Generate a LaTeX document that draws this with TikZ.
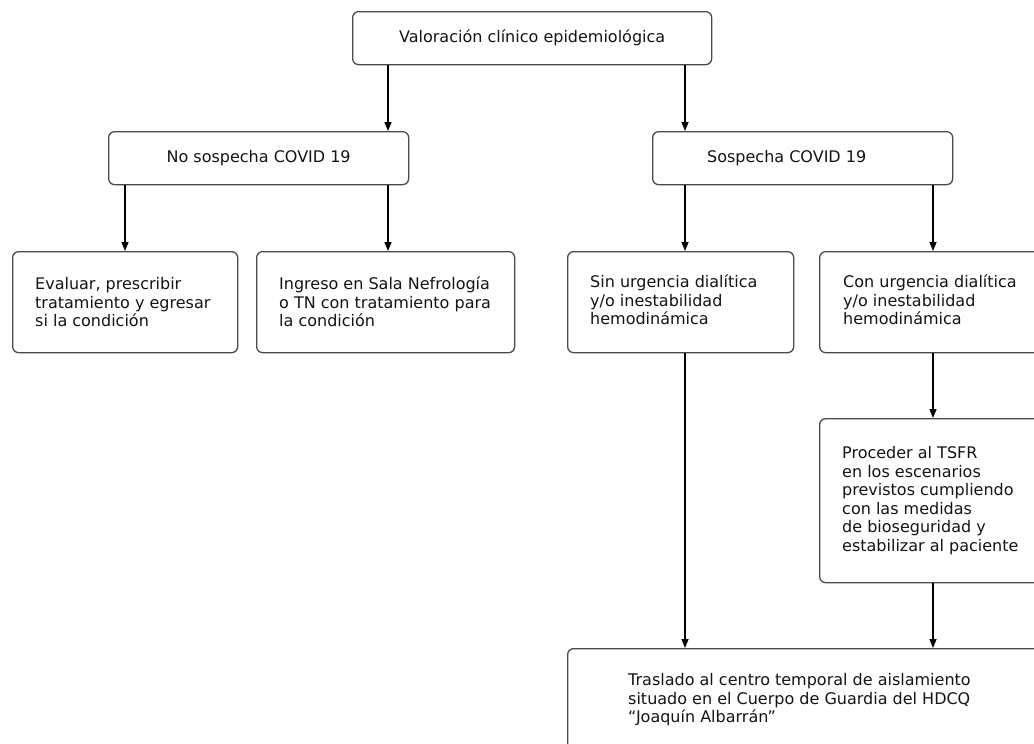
\documentclass[tikz,border=0pt]{standalone}
\usepackage{fontspec}
\setmainfont{DejaVu Sans}
\usetikzlibrary{arrows.meta}
\definecolor{boxgray}{HTML}{4A4A4A}
\definecolor{textgray}{HTML}{141414}
\begin{document}
\begin{tikzpicture}[x=1pt,y=-1pt,
  box/.style={draw=boxgray,line width=1.3pt,rounded corners=6pt,inner sep=0pt,anchor=north west},
  txt/.style={font=\fontsize{16}{18.5}\selectfont,text=textgray,align=left,inner sep=0pt,anchor=west},
  arr/.style={draw=black,line width=1.4pt,-{Triangle[length=9pt,width=7pt]}}]
\clip (0,0) rectangle (1034,744);
\fill[white] (0,0) rectangle (1034,744);
% boxes
\node[box,minimum width=359pt,minimum height=53pt] (top) at (352,11) {};
\node[box,minimum width=300pt,minimum height=53pt] (nos) at (108,131) {};
\node[box,minimum width=300pt,minimum height=53pt] (sos) at (652,131) {};
\node[box,minimum width=225pt,minimum height=101pt] (eval) at (12,251) {};
\node[box,minimum width=258pt,minimum height=101pt] (ingr) at (256,251) {};
\node[box,minimum width=226pt,minimum height=101pt] (sin) at (567,251) {};
\node[box,minimum width=230pt,minimum height=101pt] (con) at (819,251) {};
\node[box,minimum width=230pt,minimum height=164pt] (proc) at (819,418) {};
\node[box,minimum width=490pt,minimum height=102pt] (tras) at (567,648) {};
% texts
\node[txt,anchor=center] (ttop) at (top.center) {Valoración clínico epidemiológica};
\node[txt,anchor=center] (tnos) at (nos.center) {No sospecha COVID 19};
\node[txt] (tsos) at ([xshift=55pt]sos.west) {Sospecha COVID 19};
\node[txt] (teval) at ([xshift=23pt]eval.west) {Evaluar, prescribir\\tratamiento y egresar\\si la condición};
\node[txt] (tingr) at ([xshift=23pt]ingr.west) {Ingreso en Sala Nefrología\\o TN con tratamiento para\\la condición};
\node[txt] (tsin) at ([xshift=23pt,yshift=2pt]sin.west) {Sin urgencia dialítica\\y/o inestabilidad\\hemodinámica};
\node[txt] (tcon) at ([xshift=24pt,yshift=2pt]con.west) {Con urgencia dialítica\\y/o inestabilidad\\hemodinámica};
\node[txt] (tproc) at ([xshift=23pt]proc.west) {Proceder al TSFR\\en los escenarios\\previstos cumpliendo\\con las medidas\\de bioseguridad y\\estabilizar al paciente};
\node[txt] (ttras) at ([xshift=61pt]tras.west) {Traslado al centro temporal de aislamiento\\situado en el Cuerpo de Guardia del HDCQ\\“Joaquín Albarrán”};
% connector columns
\coordinate (xa) at (388,0);
\coordinate (xb) at (685,0);
\coordinate (xc) at (125,0);
\coordinate (xd) at (933,0);
% connectors
\draw[arr] (top.south -| xa) -- (nos.north -| xa);
\draw[arr] (top.south -| xb) -- (sos.north -| xb);
\draw[arr] (nos.south -| xc) -- (eval.north -| xc);
\draw[arr] (nos.south -| xa) -- (ingr.north -| xa);
\draw[arr] (sos.south -| xb) -- (sin.north -| xb);
\draw[arr] (sos.south -| xd) -- (con.north -| xd);
\draw[arr] (con.south -| xd) -- (proc.north -| xd);
\draw[arr] (sin.south -| xb) -- (tras.north -| xb);
\draw[arr] (proc.south -| xd) -- (tras.north -| xd);
\end{tikzpicture}
\end{document}
